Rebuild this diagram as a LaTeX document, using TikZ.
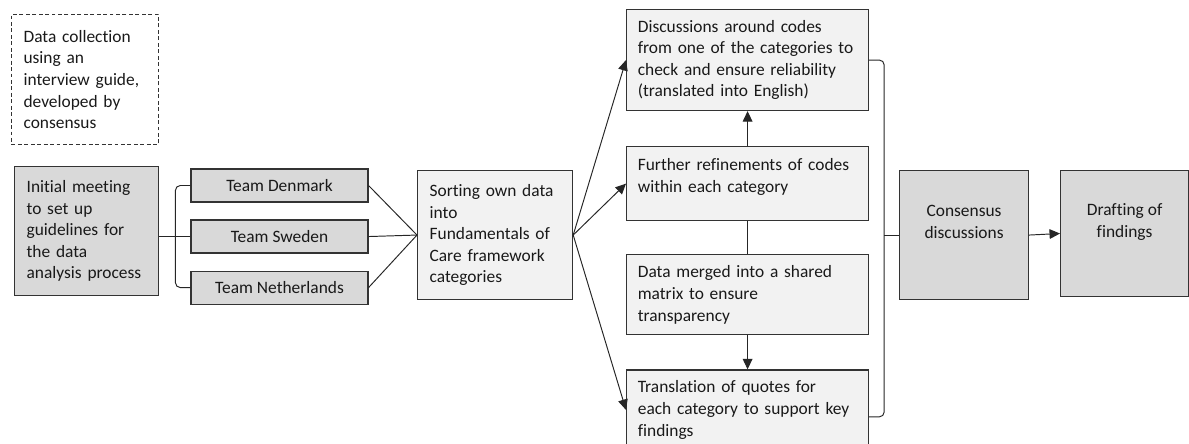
\documentclass[tikz,border=0pt]{standalone}
\usepackage{fontspec}
\setmainfont{Carlito}[Ligatures=NoCommon]
\usetikzlibrary{positioning,arrows.meta}

\begin{document}
\begin{tikzpicture}[x=0.621pt,y=-0.621pt,
      every node/.style={font=\fontsize{10.8}{13.4}\selectfont,text=black!90},
      box/.style={draw=black!80,line width=0.7pt,anchor=north west,align=left,inner xsep=7.5pt,inner ysep=0pt},
      dark/.style={box,fill=black!15},
      light/.style={box,fill=black!5},
      team/.style={dark,anchor=center,align=center,minimum width=109.9pt,minimum height=20.5pt},
      notebox/.style={box,dash pattern=on 2.4pt off 1.6pt,line width=0.6pt},
      wide/.style={light,inner xsep=7pt,text width=136.3pt},
      link/.style={draw=black!85,line width=0.6pt},
      arr/.style={link,-{Triangle[length=6.5pt,width=6pt]}}]
  \useasboundingbox (0,0) rectangle (1189,444);
  \clip (0,0) rectangle (1189,444);
  \node[notebox,text width=76.3pt,minimum height=80.7pt] (note) at (11,14) {Data collection\\using an\\interview guide,\\developed by\\consensus};
  \node[dark,text width=74.4pt,minimum height=80.1pt] (init) at (14,166) {Initial meeting\\to set up\\guidelines for\\the data\\analysis process};
  \node[team] (dk) at (279.5,185.5) {Team Denmark};
  \node[team,below=10.5pt of dk] (se) {Team Sweden};
  \node[team,below=10.5pt of se] (nl) {Team Netherlands};
  \node[light,text width=81.3pt,minimum height=80.1pt] (sort) at (417,170) {Sorting own data\\into\\Fundamentals of\\Care framework\\categories};
  \node[wide,minimum height=62.7pt] (disc) at (626,9) {Discussions around codes\\from one of the categories to\\check and ensure reliability\\(translated into English)};
  \node[wide,minimum height=46pt,below=21.7pt of disc] (refine) {Further refinements of codes\\within each category\\[-3pt]\mbox{}};
  \node[wide,minimum height=49.7pt,below=20.5pt of refine] (merge) {Data merged into a shared\\matrix to ensure\\transparency};
  \node[wide,minimum height=49.7pt,below=21.1pt of merge] (transl) {Translation of quotes for\\each category to support key\\findings};
  \node[dark,align=center,minimum width=80.1pt,minimum height=80.1pt] (cons) at (899,170) {Consensus\\discussions\\[3pt]\mbox{}};
  \node[dark,align=center,minimum width=79.5pt,minimum height=78.2pt] (draft) at (1060,170) {Drafting of\\findings\\[3pt]\mbox{}};

  \draw[link] (init.east |- se.west) -- (se.west);
  \draw[link,rounded corners=3pt] (dk.west) -- ++(-15,0) |- (nl.west);
  \draw[link] (dk.east) -- (sort.west);
  \draw[link] (se.east) -- (sort.west);
  \draw[link] (nl.east) -- (sort.west);
  \draw[arr] (sort.east) -- (disc.west);
  \draw[arr] (sort.east) -- (refine.west);
  \draw[arr] (sort.east) -- (transl.west);
  \draw[arr] (refine.north) -- (disc.south);
  \draw[link] (refine.south) -- (merge.north);
  \draw[arr] (merge.south) -- (transl.north);
  \draw[link,rounded corners=3pt] (disc.east) -- ++(15,0) coordinate (rtop) |- ([yshift=-4.3pt]transl.east);
  \draw[link] (cons.west) -- (cons.west -| rtop);
  \draw[arr] (cons.east) -- (draft.west);
\end{tikzpicture}
\end{document}
